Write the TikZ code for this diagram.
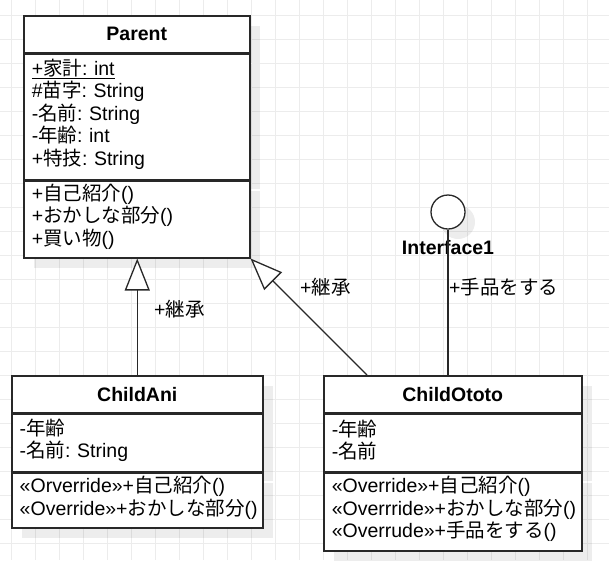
\documentclass[tikz,border=0pt]{standalone}
\usepackage{fontspec}
\setmainfont{Liberation Sans}
\newfontfamily\jpfont{Noto Sans CJK JP}
\newcommand{\jp}[1]{{\jpfont #1}}
\frenchspacing
\usetikzlibrary{arrows.meta,shadows}
\definecolor{gridgray}{RGB}{236,236,236}
\definecolor{linegray}{RGB}{40,40,40}
\tikzset{
  classfont/.style={font=\fontsize{19.5}{22.5}\selectfont},
  umlshadow/.style={drop shadow={shadow xshift=10pt, shadow yshift=-10pt, fill=black, opacity=0.07}},
  umltitle/.style={draw=linegray, line width=1.5pt, fill=white, umlshadow, font=\bfseries\fontsize{19.5}{22.5}\selectfont, minimum height=37pt, inner sep=0pt, anchor=north west},
  umlpart/.style={draw=linegray, line width=1.5pt, fill=white, umlshadow, classfont, align=left, inner xsep=8pt, inner ysep=0pt, anchor=north, execute at end node={\par\vspace{5pt}}},
  inherit/.style={draw=linegray, line width=1.3pt, -{Triangle[fill=white, length=32pt, width=25pt]}},
  realize/.style={draw=linegray, line width=1.3pt},
  edgelabel/.style={classfont, anchor=west, inner sep=0pt},
  gridline/.style={draw=gridgray, line width=1pt}
}
\begin{document}
\begin{tikzpicture}[x=1pt, y=-1pt]
    % Fondo y cuadricula
    \fill[white] (0,0) rectangle (609,560);
    \useasboundingbox (0,0) rectangle (609,560);
    \foreach \gx in {11,35,...,587} \draw[gridline] (\gx,0) -- (\gx,560);
    \foreach \gy in {15,39,...,543} \draw[gridline] (0,\gy) -- (609,\gy);

    % Parent
    \node[umltitle, minimum width=226pt] (parent) at (23,15) {Parent};
    \node[umlpart, text width=210pt, minimum height=125pt] (parent-attr) at (parent.south)
        {\underline{+\jp{家計}: int}\\ \#\jp{苗字}: String\\ -\jp{名前}: String\\ -\jp{年齢}: int\\ +\jp{特技}: String};
    \node[umlpart, text width=210pt, minimum height=77pt] (parent-ops) at (parent-attr.south)
        {+\jp{自己紹介}()\\ +\jp{おかしな部分}()\\ +\jp{買い物}()};

    % ChildAni
    \node[umltitle, minimum width=251pt] (childani) at (11,375) {ChildAni};
    \node[umlpart, text width=235pt, minimum height=57pt] (childani-attr) at (childani.south)
        {-\jp{年齢}\\ -\jp{名前}: String};
    \node[umlpart, text width=235pt, minimum height=55pt] (childani-ops) at (childani-attr.south)
        {«Orverride»+\jp{自己紹介}()\\ «Override»+\jp{おかしな部分}()};

    % ChildOtoto
    \node[umltitle, minimum width=258pt] (childototo) at (323,375) {ChildOtoto};
    \node[umlpart, text width=242pt, minimum height=57pt] (childototo-attr) at (childototo.south)
        {-\jp{年齢}\\ -\jp{名前}};
    \node[umlpart, text width=242pt, minimum height=78pt] (childototo-ops) at (childototo-attr.south)
        {«Override»+\jp{自己紹介}()\\ «Overrride»+\jp{おかしな部分}()\\ «Overrude»+\jp{手品をする}()};

    % Interface1
    \node[circle, draw=linegray, line width=1.3pt, fill=white, umlshadow, minimum size=34pt, inner sep=0pt] (iface) at (448,212) {};
    \node[font=\bfseries\fontsize{19.5}{22.5}\selectfont, inner sep=0pt] (iface-name) at (448,248) {Interface1};

    % Herencia
    \draw[inherit] (childani.north) -- (childani.north |- parent-ops.south);
    \draw[inherit] ([xshift=44pt]childototo.north west) -- (parent-ops.south east);
    \node[edgelabel] (lbl-ani) at (154,309) {+\jp{継承}};
    \node[edgelabel] (lbl-ototo) at (300,287) {+\jp{継承}};

    % Realizacion
    \draw[realize] (iface.south) -- (iface.south |- childototo.north);
    \node[edgelabel] (lbl-iface) at (449,287) {+\jp{手品をする}};
\end{tikzpicture}
\end{document}
